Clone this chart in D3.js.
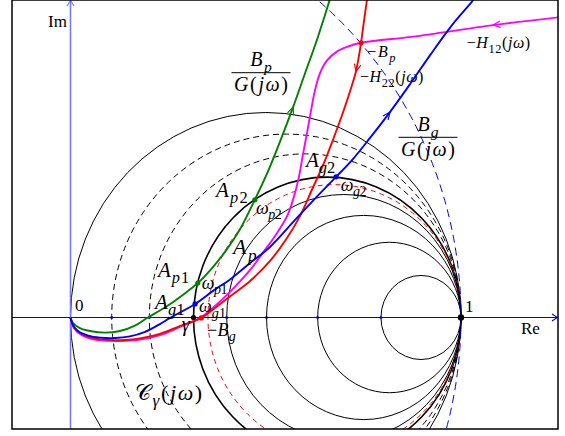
<!DOCTYPE html>
<html><head><meta charset="utf-8">
<script src="https://cdn.jsdelivr.net/npm/d3@7"></script>
<style>
html,body{margin:0;padding:0;background:#fff;}
svg{display:block;}
text{font-family:"Liberation Serif","DejaVu Serif",serif;fill:#000;}
</style></head><body>
<svg id="chart" width="565" height="436"></svg>
<script>
// Circles through the point 1, centred on the real axis: left crossing on Re
const circleLeft  = [0, 0.1055, 0.2018, 0.315, 0.352, 0.400, 0.502, 0.633, 0.795];
const circleStyle = ["solid", "dash", "dash", "gamma", "red", "solid", "solid", "solid", "solid"];
const tickCircles = [1, 2, 5, 6, 7, 8];      // circles whose crossings get an axis dot
const unitCircleRadius = 1;                   // |z| = 1 (blue dashed)

// B_p / G(jω)
const curveBp = [[0,0],[0.006,-0.013],[0.024,-0.026],[0.050,-0.033],[0.088,-0.037],[0.127,-0.033],
  [0.165,-0.020],[0.198,0],[0.229,0.017],[0.263,0.038],[0.296,0.061],[0.326,0.084],[0.362,0.120],
  [0.398,0.163],[0.434,0.215],[0.472,0.287],[0.506,0.357],[0.539,0.435],[0.570,0.513],
  [0.600,0.594],[0.631,0.677],[0.659,0.760],[0.675,0.810]];
// B_g / G(jω)
const curveBg = [[0,0],[0.006,-0.018],[0.019,-0.033],[0.045,-0.044],[0.076,-0.049],[0.114,-0.050],
  [0.152,-0.046],[0.191,-0.035],[0.229,-0.016],[0.255,-0.001],[0.319,0.033],[0.365,0.065],
  [0.413,0.096],[0.460,0.133],[0.511,0.172],[0.575,0.238],[0.631,0.295],[0.680,0.343],
  [0.721,0.384],[0.767,0.438],[0.818,0.501],[0.870,0.570],[0.921,0.640],[0.977,0.713],
  [1.031,0.774],[1.054,0.804]];
// -H22(jω)
const curveH22 = [[0,0],[0.009,-0.023],[0.029,-0.040],[0.063,-0.051],[0.101,-0.055],[0.140,-0.055],
  [0.178,-0.051],[0.229,-0.040],[0.280,-0.021],[0.335,-0.001],[0.370,0.023],[0.408,0.051],
  [0.460,0.089],[0.511,0.138],[0.551,0.189],[0.587,0.246],[0.618,0.311],[0.647,0.372],
  [0.672,0.433],[0.700,0.506],[0.721,0.567],[0.731,0.600],[0.739,0.640],[0.744,0.670],
  [0.752,0.726],[0.759,0.774],[0.763,0.811]];
// -H12(jω)
const curveH12 = [[0,0],[0.009,-0.026],[0.029,-0.043],[0.063,-0.054],[0.101,-0.057],[0.140,-0.057],
  [0.178,-0.054],[0.229,-0.043],[0.280,-0.023],[0.332,-0.001],[0.370,0.028],[0.408,0.062],
  [0.460,0.116],[0.498,0.165],[0.524,0.199],[0.555,0.248],[0.572,0.294],[0.585,0.343],
  [0.595,0.396],[0.606,0.452],[0.616,0.505],[0.626,0.554],[0.639,0.596],[0.657,0.627],
  [0.683,0.649],[0.711,0.661],[0.744,0.670],[0.877,0.685],[1.082,0.713],[1.266,0.734]];

// marked points (indices into the curves) and arrow positions (index, direction)
const dotsBp = [11, 15], dotsBg = [10, 17], dotsH22 = [9, 23];
const arrowBp = [18, 1], arrowBg = [20, 1], arrowH22 = [21, -1], arrowH12 = [28, -1];
const gammaPoint = 0.315, onePoint = 1;

const svg = d3.select("#chart");
const frame = {x0: 12, x1: 558, y0: 0, y1: 429};
const x = d3.scaleLinear().domain([0, 1]).range([70.5, 461]);
const y = d3.scaleLinear().domain([0, 1]).range([317.5, -92.5]);

svg.append("clipPath").attr("id", "clip").append("rect")
  .attr("x", frame.x0).attr("y", frame.y0).attr("width", frame.x1 - frame.x0).attr("height", frame.y1 - frame.y0);
const plot = svg.append("g").attr("clip-path", "url(#clip)");

// circle family
const styles = {
  solid: {stroke: "#000", w: 1, dash: null},
  dash:  {stroke: "#000", w: 1, dash: "6,4"},
  gamma: {stroke: "#000", w: 1.6, dash: null},
  red:   {stroke: "#f00", w: 1, dash: "5,4"}
};
circleLeft.forEach((a, i) => {
  const c = (a + 1) / 2, r = (1 - a) / 2, s = styles[circleStyle[i]];
  plot.append("ellipse")
    .attr("cx", x(c)).attr("cy", y(0))
    .attr("rx", x(r) - x(0)).attr("ry", y(0) - y(r))
    .attr("fill", "none").attr("stroke", s.stroke).attr("stroke-width", s.w)
    .attr("stroke-dasharray", s.dash);
});
plot.append("ellipse")
  .attr("cx", x(0)).attr("cy", y(0))
  .attr("rx", x(unitCircleRadius) - x(0)).attr("ry", y(0) - y(unitCircleRadius))
  .attr("fill", "none").attr("stroke", "#00f").attr("stroke-width", 1).attr("stroke-dasharray", "8,5");

// axes
plot.append("line").attr("x1", x(0)).attr("x2", x(0)).attr("y1", frame.y1).attr("y2", frame.y0)
  .attr("stroke", "#7878ff").attr("stroke-width", 1.6);
plot.append("path").attr("d", `M${x(0)-3.5},${frame.y0+6}L${x(0)},${frame.y0+0.5}L${x(0)+3.5},${frame.y0+6}`)
  .attr("fill", "none").attr("stroke", "#7878ff").attr("stroke-width", 1.2);
plot.append("line").attr("x1", frame.x0).attr("x2", frame.x1).attr("y1", y(0)).attr("y2", y(0))
  .attr("stroke", "#0000f0").attr("stroke-width", 1.1);
plot.append("path").attr("d", `M${frame.x1-6},${y(0)-3.5}L${frame.x1-0.5},${y(0)}L${frame.x1-6},${y(0)+3.5}`)
  .attr("fill", "none").attr("stroke", "#0000f0").attr("stroke-width", 1.1);
tickCircles.forEach(i => {
  plot.append("rect").attr("x", x(circleLeft[i]) - 1.2).attr("y", y(0) - 1.2)
    .attr("width", 2.4).attr("height", 2.4).attr("fill", "#0000c8");
});

// curves
const line = d3.line().x(d => x(d[0])).y(d => y(d[1])).curve(d3.curveCatmullRom.alpha(0.5));
function arrowAt(pts, spec, color) {
  const [i, dir] = spec;
  const p = [x(pts[i][0]), y(pts[i][1])];
  const a = [x(pts[i-1][0]), y(pts[i-1][1])], b = [x(pts[i+1][0]), y(pts[i+1][1])];
  let dx = (b[0] - a[0]) * dir, dy = (b[1] - a[1]) * dir;
  const L = Math.hypot(dx, dy); dx /= L; dy /= L;
  const len = 8, ang = 0.42;
  const wing = s => {
    const c = Math.cos(s * ang), sn = Math.sin(s * ang);
    return [p[0] - len * (dx * c - dy * sn), p[1] - len * (dx * sn + dy * c)];
  };
  const w1 = wing(1), w2 = wing(-1);
  plot.append("path").attr("d", `M${w1}L${p}L${w2}`)
    .attr("fill", "none").attr("stroke", color).attr("stroke-width", 1.2);
}
function drawCurve(pts, color, dots, arrow) {
  plot.append("path").attr("d", line(pts)).attr("fill", "none")
    .attr("stroke", color).attr("stroke-width", 1.9);
  if (arrow) arrowAt(pts, arrow, color);
  (dots || []).forEach(i => plot.append("circle")
    .attr("cx", x(pts[i][0])).attr("cy", y(pts[i][1])).attr("r", 2.6).attr("fill", color));
}
drawCurve(curveH12, "#ff00ff", [], arrowH12);
drawCurve(curveH22, "#ff0000", dotsH22, arrowH22);
drawCurve(curveBp, "#008000", dotsBp, arrowBp);
drawCurve(curveBg, "#0000ff", dotsBg, arrowBg);

plot.append("circle").attr("cx", x(gammaPoint)).attr("cy", y(0)).attr("r", 2.6).attr("fill", "#000");
plot.append("circle").attr("cx", x(onePoint)).attr("cy", y(0)).attr("r", 3.2).attr("fill", "#000");

// frame
svg.append("rect").attr("x", frame.x0).attr("y", frame.y0)
  .attr("width", frame.x1 - frame.x0).attr("height", frame.y1 - frame.y0)
  .attr("fill", "none").attr("stroke", "#000").attr("stroke-width", 1.5);

// labels: parts are [text, kind]; kind r = roman, i = italic, sr / si = subscript
const labels = svg.append("g");
function rich(px, py, parts, size, anchor, width) {
  const t = labels.append("text").attr("x", px).attr("y", py)
    .attr("font-size", size).attr("text-anchor", anchor || "start");
  let shift = 0, count = 0;
  const drop = size * 0.3;
  parts.forEach(([s, kind]) => {
    const sub = kind[0] === "s";
    const ital = kind[kind.length - 1] === "i";
    const ts = t.append("tspan").text(s)
      .attr("font-style", ital ? "italic" : "normal")
      .attr("font-size", sub ? size * 0.78 : size);
    const target = sub ? drop : 0;
    if (target !== shift) { ts.attr("dy", target - shift); shift = target; }
    count += [...s].length;
  });
  if (width && count > 1) {
    const w = t.node().getComputedTextLength();
    const ls = Math.max(-0.5, Math.min(1.6, (width - w) / count));
    t.attr("letter-spacing", ls);
    if ((anchor || "start") === "middle") t.attr("x", px + ls / 2);
  }
  return t;
}
function fraction(cx, yNum, yLine, yDen, halfW, num, numW, den, denW, size) {
  rich(cx, yNum, num, size, "middle", numW);
  labels.append("line").attr("x1", cx - halfW).attr("x2", cx + halfW)
    .attr("y1", yLine).attr("y2", yLine).attr("stroke", "#000").attr("stroke-width", 1);
  rich(cx, yDen, den, size, "middle", denW);
}
const Gjw = [["G","i"],["(","r"],["jω","i"],[")","r"]];
rich(67, 27, [["Im","r"]], 17, "end");
rich(521, 334, [["Re","r"]], 17);
rich(75, 311, [["0","r"]], 17);
rich(465, 312, [["1","r"]], 17);
fraction(261, 65.5, 72.7, 91, 29.5, [["B","i"],["p","si"]], 25, Gjw, 56, 20);
fraction(428, 130.5, 137.3, 156, 29.5, [["B","i"],["g","si"]], 22, Gjw, 56, 20);
rich(466.7, 48.3, [["−","r"],["H","i"],["12","sr"],["(","r"],["jω","i"],[")","r"]], 16, "start", 64);
rich(360, 81.7, [["−","r"],["H","i"],["22","sr"],["(","r"],["jω","i"],[")","r"]], 16, "start", 64);
rich(367.3, 56.7, [["−","r"],["B","i"],["p","si"]], 16, "start", 30);
rich(216, 197, [["A","i"],["p","si"],["2","sr"]], 21, "start", 33);
rich(256, 214, [["ω","i"],["p","si"],["2","sr"]], 18, "start", 24);
rich(306, 167, [["A","i"],["g","si"],["2","sr"]], 21, "start", 29);
rich(340.7, 190.5, [["ω","i"],["g","si"],["2","sr"]], 18, "start", 23);
rich(233, 254, [["A","i"],["p","si"]], 22, "start", 25);
rich(158, 277, [["A","i"],["p","si"],["1","sr"]], 21, "start", 32);
rich(201.7, 288.5, [["ω","i"],["p","si"],["1","sr"]], 18, "start", 23);
rich(155, 308.5, [["A","i"],["g","si"],["1","sr"]], 21, "start", 30);
rich(199, 312.2, [["ω","i"],["g","si"],["1","sr"]], 18, "start", 27);
rich(181.7, 331, [["γ","i"]], 20);
rich(207, 336, [["−","r"],["B","i"],["g","si"]], 18, "start", 29);
rich(135, 399.7, [["𝒞","r"],["γ","si"],["(","r"],["jω","i"],[")","r"]], 22, "start", 71);
</script>
</body></html>
